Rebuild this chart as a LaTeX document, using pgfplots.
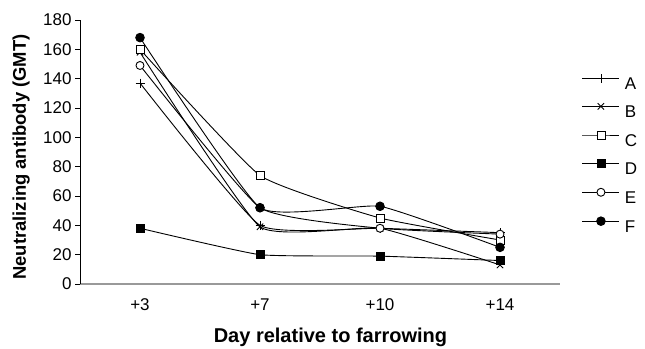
\documentclass[border=0pt]{standalone}
\usepackage{fontspec}
\setmainfont{Liberation Sans}
\usepackage{pgfplots}
\pgfplotsset{compat=1.18}
\begin{document}
\begin{tikzpicture}[x=1bp,y=1bp]
\useasboundingbox (0,0) rectangle (645,348);
\begin{axis}[
  at={(80bp,64bp)}, anchor=south west,
  scale only axis, width=480bp, height=264bp,
  xmin=-0.5, xmax=3.5, ymin=0, ymax=180,
  axis x line=bottom, axis y line=left,
  x axis line style={draw=black!40, line width=1.3bp, -},
  y axis line style={black, line width=0.8bp, -},
  xtick={0,1,2,3}, xticklabels={+3,+7,+10,+14},
  xtick style={draw=none},
  ytick={0,20,...,180},
  tick align=outside, major tick length=5bp,
  ytick style={black, line width=0.8bp},
  tick label style={font=\fontsize{17bp}{19bp}\selectfont},
  xticklabel style={yshift=-6bp},
  /pgf/number format/assume math mode=true,
  xlabel={\textbf{Day relative to farrowing}},
  ylabel={\textbf{Neutralizing antibody (GMT)}},
  xlabel style={font=\fontsize{20bp}{22bp}\selectfont, at={(axis description cs:0.5,0)}, anchor=base, xshift=10.5bp, yshift=-58bp},
  ylabel style={font=\fontsize{18.4bp}{20bp}\selectfont, at={(axis description cs:0,0.5)}, anchor=base, yshift=54bp, xshift=-5bp},
  clip=false,
  every axis plot/.append style={black, line width=0.9bp, smooth, tension=0.25},
  legend style={draw=none, fill=none, at={(axis description cs:1.0458,0.795)}, anchor=north west,
    inner sep=0pt, outer sep=0pt, row sep=12bp, column sep=5bp,
    font=\fontsize{17bp}{20bp}\selectfont, nodes={inner sep=0pt}},
  legend cell align=left,
  legend image code/.code={\draw[mark repeat=2,mark phase=2] plot[sharp plot] coordinates {(0bp,6bp)(18.5bp,6bp)(37bp,6bp)};},
]
\addplot[mark=+, mark size=4.5bp, mark options={line width=0.9bp}] coordinates {(0,137) (1,40) (2,38) (3,35)};
\addlegendentry{A}
\addplot[mark=x, mark size=4.5bp, mark options={line width=0.9bp}] coordinates {(0,158) (1,39) (2,38) (3,13)};
\addlegendentry{B}
\addplot[mark=square*, mark size=4bp, mark options={fill=white, line width=0.9bp}] coordinates {(0,160) (1,74) (2,45) (3,30)};
\addlegendentry{C}
\addplot[mark=square*, mark size=4bp, mark options={fill=black}] coordinates {(0,38) (1,20) (2,19) (3,16)};
\addlegendentry{D}
\addplot[mark=*, mark size=4bp, mark options={fill=white, line width=0.9bp}] coordinates {(0,149) (1,52) (2,38) (3,34)};
\addlegendentry{E}
\addplot[mark=*, mark size=4.3bp, mark options={fill=black}] coordinates {(0,168) (1,52) (2,53) (3,25)};
\addlegendentry{F}
\end{axis}
\end{tikzpicture}
\end{document}
